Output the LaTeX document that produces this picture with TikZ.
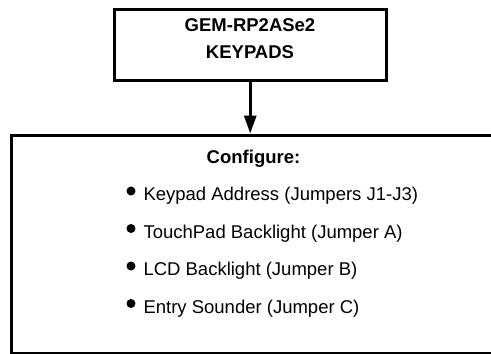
\documentclass[tikz,border=0pt]{standalone}
\usepackage{fontspec}
\setmainfont{Liberation Sans}
\usetikzlibrary{arrows.meta}
\begin{document}
\begin{tikzpicture}[x=1pt,y=-1pt,
  thickbox/.style={draw=black,line width=3pt,inner sep=0pt,outer sep=0pt,fill=none},
  txt/.style={inner sep=0pt,anchor=base,font=\fontsize{18.5}{22}\selectfont},
  boldtxt/.style={txt,font=\fontsize{18.5}{22}\selectfont\bfseries},
  item/.style={txt,anchor=base west},
  dot/.style={circle,fill=black,inner sep=0pt,minimum size=9pt}]
\path[use as bounding box] (0,0) rectangle (491,354);
\clip (0,0) rectangle (491,354);
\fill[white] (0,0) rectangle (491,354);
% top box
\node[thickbox,minimum width=271.5pt,minimum height=70.5pt] (top) at (250.25,44.75) {};
\node[boldtxt] (t1) at (250,31.7) {GEM-RP2ASe2};
\node[boldtxt] (t2) at (250,58.3) {KEYPADS};
% big box (extends past the right and bottom edges)
\node[thickbox,minimum width=482.5pt,minimum height=218.5pt] (cfg) at (252.75,244.25) {};
% arrow
\draw[line width=3pt,-{Triangle[width=12pt,length=18pt]},shorten >=1.5pt] (top.south) -- (top.south |- cfg.north);
% text
\node[boldtxt] (c0) at (253.5,163.5) {Configure:};
\node[item] (i1) at (143.3,200.5) {Keypad Address (Jumpers J1-J3)};
\node[item] (i2) at (143.3,238) {TouchPad Backlight (Jumper A)};
\node[item] (i3) at (143.3,275.5) {LCD Backlight (Jumper B)};
\node[item] (i4) at (143.3,313) {Entry Sounder (Jumper C)};
\node[dot] (b1) at (131,191) {};
\node[dot] (b2) at (131,228.5) {};
\node[dot] (b3) at (131,266) {};
\node[dot] (b4) at (131,303.5) {};
\end{tikzpicture}
\end{document}
